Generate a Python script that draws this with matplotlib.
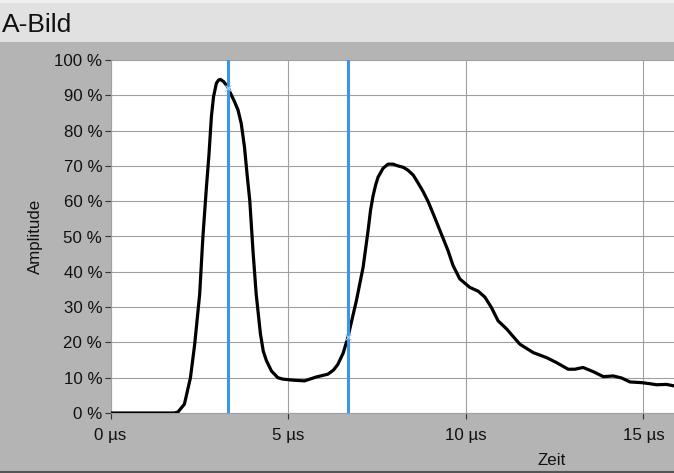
import numpy as np
import matplotlib
matplotlib.use("Agg")
import matplotlib.pyplot as plt
from matplotlib.patches import Rectangle
from matplotlib.lines import Line2D

plt.rcParams['font.family'] = ['Liberation Sans', 'DejaVu Sans']

# ---- data (time in µs, amplitude in %) ----
time_us = [0.0, 1.0, 1.80, 1.90, 2.08, 2.25, 2.37, 2.51, 2.60, 2.70, 2.77, 2.84, 2.90, 2.98, 3.04, 3.09,
           3.18, 3.30, 3.40, 3.49, 3.59, 3.68, 3.77, 3.85, 3.92, 4.01, 4.10, 4.22, 4.30, 4.39, 4.53, 4.71,
           4.85, 5.14, 5.46, 5.79, 6.12, 6.28, 6.40, 6.55, 6.68, 6.92, 7.11, 7.25, 7.32, 7.39, 7.46, 7.53,
           7.67, 7.81, 7.95, 8.09, 8.24, 8.37, 8.52, 8.66, 8.80, 8.94, 9.10, 9.32, 9.50, 9.64, 9.83, 10.11, 10.35,
           10.54, 10.72, 10.91, 11.15, 11.52, 11.90, 12.27, 12.55, 12.88, 13.07,
           13.30, 13.59, 13.87, 14.15, 14.39, 14.62, 14.95, 15.18, 15.37, 15.65, 15.90]
amplitude_pct = [0.0, 0.0, 0.0, 0.3, 2.5, 10.0, 19.5, 33.7, 49.8, 64.0, 73.0, 84.0, 89.6, 93.4, 94.3, 94.5,
                 93.9, 92.4, 90.1, 88.2, 85.8, 82.0, 75.4, 67.0, 60.2, 46.0, 33.7, 22.4, 17.5, 14.8, 11.9, 10.0,
                 9.6, 9.3, 9.1, 10.2, 11.0, 12.2, 13.8, 17.0, 21.4, 31.8, 41.3, 51.7, 57.5, 61.5, 64.5, 66.8,
                 69.3, 70.5, 70.5, 70.0, 69.6, 68.8, 67.4, 65.1, 62.7, 59.9, 56.0, 50.5, 46.0, 41.8, 38.0, 35.6, 34.5,
                 32.8, 29.9, 26.1, 23.8, 19.5, 17.1, 15.7, 14.3, 12.4, 12.4,
                 12.9, 11.7, 10.3, 10.5, 9.9, 8.8, 8.6, 8.3, 8.0, 8.1, 7.6]
cursor_us = [3.32, 6.68]

x_ticks = [0, 5, 10, 15]
x_ticklabels = ["0 µs", "5 µs", "10 µs", "15 µs"]
y_ticks = list(range(0, 101, 10))
y_ticklabels = [f"{v} %" for v in y_ticks]

W, H = 674, 473
fig = plt.figure(figsize=(W / 100, H / 100), dpi=100)
fig.patch.set_facecolor('#b4b4b4')

# title bar
fig.add_artist(Rectangle((0, (H - 42) / H), 1, 42 / H, transform=fig.transFigure,
                         facecolor='#e1e1e1', edgecolor='none', zorder=0))
fig.add_artist(Rectangle((0, (H - 3) / H), 1, 3 / H, transform=fig.transFigure,
                         facecolor='#efefef', edgecolor='none', zorder=0))
fig.text(2 / W, (H - 32) / H, "A-Bild", fontsize=19, va='baseline', ha='left', color='#111111')
# bottom border
fig.add_artist(Line2D([0, 1], [1.5 / H, 1.5 / H], transform=fig.transFigure,
                      color='#555555', lw=1.5))

left_px, right_px, top_px, bottom_px = 110.5, 674, 60, 413
ax = fig.add_axes([left_px / W, (H - bottom_px) / H, (right_px - left_px) / W, (bottom_px - top_px) / H])
ax.set_facecolor('white')
ax.set_xlim(0, 15.86)
ax.set_ylim(0, 100)

ax.set_xticks(x_ticks)
ax.set_xticklabels(x_ticklabels)
ax.set_yticks(y_ticks)
ax.set_yticklabels(y_ticklabels)
ax.grid(True, color='#a0a0a0', lw=0.8)
ax.set_axisbelow(True)
ax.tick_params(axis='both', which='both', length=4.5, width=0.8, color='#333333',
               labelsize=12.2, labelcolor='#111111')
ax.tick_params(axis='y', pad=1.5)
ax.tick_params(axis='x', pad=6)
for s in ['top', 'right']:
    ax.spines[s].set_visible(False)
ax.spines['left'].set_color('#a0a0a0')
ax.spines['left'].set_linewidth(0.8)
ax.spines['bottom'].set_color('#a0a0a0')
ax.spines['bottom'].set_linewidth(0.8)

ax.plot(time_us, amplitude_pct, color='black', lw=2.3, solid_joinstyle='round',
        solid_capstyle='round', zorder=3)
for c in cursor_us:
    ax.axvline(c, color='#3c96e6', lw=2.2, zorder=4)
    yv = np.interp(c, time_us, amplitude_pct)
    ax.plot([c], [yv], marker='x', ms=4, mew=0.8, color='#a8d0f0', zorder=5)

fig.text(552 / W, (H - 460) / H, "Zeit", fontsize=12.2, ha='center', va='center', color='#111111')
fig.text(35 / W, (H - 236) / H, "Amplitude", fontsize=12.2, ha='center', va='center',
         rotation=90, color='#111111')

fig.savefig("out.png", dpi=100, facecolor=fig.get_facecolor())
